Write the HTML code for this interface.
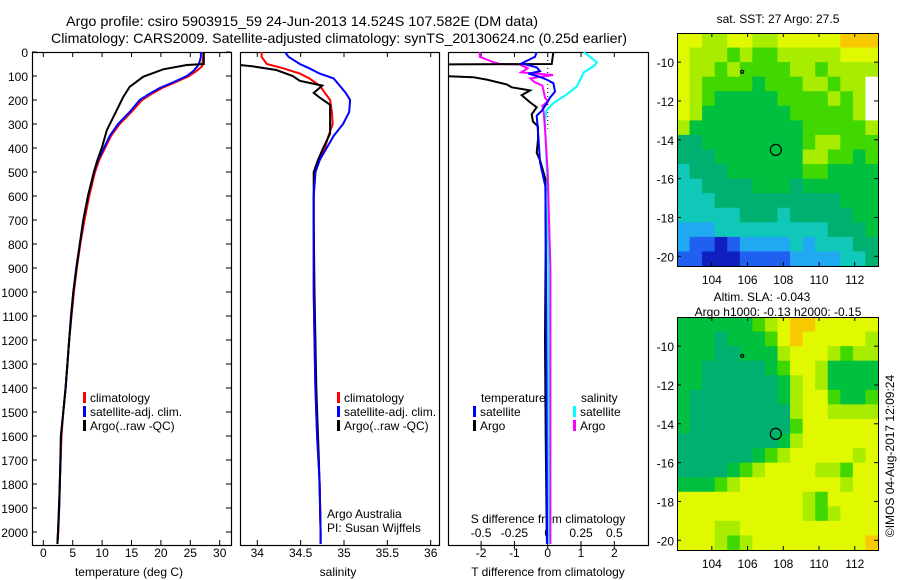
<!DOCTYPE html>
<html><head><meta charset="utf-8"><style>
html,body{margin:0;padding:0;background:#fff;}
svg{display:block;font-family:"Liberation Sans",sans-serif;}
</style></head><body>
<svg id="c" width="900" height="580" viewBox="0 0 900 580"></svg>
<script>
// ---------- data ----------
const depthT = [0,20,40,60,80,100,125,150,175,200,250,300,350,400,450,500,600,700,800,900,1000,1100,1200,1300,1400,1500,1600,1700,1800,1900,2000,2050];
const tempClim = [27.2,27.2,27.1,27.0,26.0,24.8,22.6,20.2,18.4,16.8,15.0,13.0,11.5,10.5,9.5,8.8,7.8,7.0,6.3,5.7,5.2,4.8,4.4,4.1,3.8,3.4,3.1,2.95,2.8,2.7,2.55,2.4];
const tempSat = [26.8,26.8,26.6,26.2,25.5,24.4,22.2,19.8,18.0,16.4,14.7,12.7,11.3,10.3,9.3,8.6,7.6,6.8,6.2,5.6,5.1,4.7,4.4,4.1,3.8,3.4,3.0,2.95,2.8,2.7,2.5,2.4];
const depthTA = [0,50,54,72,103,145,187,257,326,396,450,500,600,700,800,1000,1200,1400,1600,1800,2000,2050];
const tempArgo = [27.3,27.3,24.4,20.4,17.0,14.7,13.6,12.2,10.8,10.0,9.2,8.6,7.6,6.8,6.2,5.1,4.4,3.8,3.0,2.8,2.5,2.4];

const depthS = [0,20,50,68,90,110,140,170,200,250,300,350,400,450,500,600,800,1000,1200,1400,1600,1800,2000,2050];
const salClim = [34.05,34.05,34.11,34.30,34.49,34.60,34.72,34.78,34.84,34.86,34.87,34.82,34.78,34.72,34.67,34.65,34.65,34.65,34.66,34.67,34.69,34.72,34.73,34.73];
const salSat = [34.32,34.36,34.49,34.60,34.72,34.88,34.95,35.02,35.07,35.06,34.99,34.88,34.80,34.72,34.67,34.65,34.65,34.65,34.66,34.67,34.69,34.72,34.73,34.73];
const depthSA = [50,60,75,100,120,140,170,190,220,300,340,400,450,500,700,1000,1400,1700,2000,2050];
const salArgo = [33.7,33.95,34.22,34.41,34.49,34.75,34.65,34.72,34.84,34.84,34.84,34.76,34.70,34.65,34.65,34.66,34.68,34.71,34.73,34.73];

const depthDTA = [0,50,52,95,100,105,115,135,147,160,180,210,230,260,290,310,365,420,450,530,800,1200,1600,2000,2050];
const dTArgo = [0.17,0.12,-3.5,-3.5,-3.2,-2.24,-1.83,-1.23,-1.08,-0.53,-0.78,-0.53,-0.33,-0.48,-0.44,-0.29,-0.29,-0.33,-0.23,-0.07,-0.06,-0.08,-0.06,-0.03,-0.02];
const depthDTS = [0,20,47,64,80,90,104,115,130,165,190,215,245,265,355,460,560,900,1300,1700,2000,2050];
const dTSat = [-0.33,-0.38,-0.78,-0.33,-0.23,-0.58,-0.23,-0.03,0.17,0.22,0.07,-0.03,-0.18,-0.33,-0.28,-0.23,-0.07,-0.05,-0.04,-0.03,-0.02,-0.02];
const depthDSA = [0,20,42,50,52,68,85,96,110,125,140,190,205,225,250,320,500,900,1500,2050];
const dSArgo = [-0.51,-0.51,-0.41,-0.36,-0.21,-0.15,-0.2,0.04,-0.13,-0.1,-0.04,-0.02,0.0,-0.04,-0.03,-0.02,0.0,0.02,0.02,0.02];
const depthDSS = [0,43,57,85,143,178,214,243,290,600,1000,2050];
const dSSat = [0.27,0.37,0.35,0.27,0.22,0.14,0.04,-0.01,-0.02,0.0,0.005,0.005];

const tempTicks = [0,5,10,15,20,25,30];
const salTicks = [34,34.5,35,35.5,36];
const salTickLabels = ["34","34.5","35","35.5","36"];
const dTTicks = [-2,-1,0,1,2];
const dSTicks = [-0.5,-0.25,0,0.25,0.5];
const dSTickLabels = ["-0.5","-0.25","0","0.25","0.5"];
const depthTicks = [0,100,200,300,400,500,600,700,800,900,1000,1100,1200,1300,1400,1500,1600,1700,1800,1900,2000];
const lonTicks = [104,106,108,110,112];
const latTicks = [-10,-12,-14,-16,-18,-20];

// map grids (rows north->south, lat -8.5..-20.5); digit = colour class, w = no data
const sstGrid = [
"8877887788888999","8777676677777888","8776766667767777","876666566677677w",
"876555556666767w","875555555666667w","7555555555666667","4455555555677666",
"4445555555776656","3444555555665555","3344445554555555","3334444444444555",
"3333344434444455","2223333333334445","2110122223233344","1100011112222334"];
const slaGrid = [
"5555556789988888","5554555689888887","5554455578887677","5544444568875555",
"5544444457875555","5444444457886556","5444444447887777","5444444446888888",
"4444444457888888","4444445678888878","4444567888877688","5556788888888788",
"8888888888768888","8888888888767888","8887788888888888","8887678888888889"];
const palette = ["#1020c0","#2060f0","#20a8f0","#10c8b8","#00b070","#00c040","#40d800","#a8ec00","#e0f800","#f8c800"];
const mapLon = [102.05,113.3];
const mapLat = [-8.5,-20.5];
const argoPos = [107.58,-14.52];
const smallMarker = [105.7,-10.5];

// ---------- helpers ----------
const svg = document.getElementById('c');
const NS = 'http://www.w3.org/2000/svg';
function add(parent, tag, attrs, name){
  const el = document.createElementNS(NS, tag);
  for (const k in attrs) el.setAttribute(k, attrs[k]);
  
  
  parent.appendChild(el);
  return el;
}
function txt(parent, x, y, s, name, opts){
  opts = opts || {};
  const el = add(parent, 'text', Object.assign({x:x, y:y, 'font-size':opts.fs||12, 'text-anchor':opts.anchor||'start', fill:'#000'}, opts.extra||{}), name);
  el.textContent = s;
  return el;
}
const yD = d => 52 + d*0.24;
const BOT = 545, TOP = 52;
const xT = t => 43.3 + t*5.88;
const xS = s => 257.3 + (s-34)*86.7;
const xdT = v => 547.7 + v*33.3;
const xdS = v => 547.7 + v*133.2;

// clip paths
const defs = add(svg,'defs',{},'defs');
[[32,231,'clip1'],[240,439,'clip2'],[448,648,'clip3']].forEach(c=>{
  const cp = add(defs,'clipPath',{id:c[2]},'clip-'+c[2]);
  add(cp,'rect',{x:c[0],y:TOP,width:c[1]-c[0],height:BOT-TOP},'clip-rect');
});

function line(g, xs, ds, xf, color, clip, name, w){
  const pts = xs.map((v,i)=>xf(v).toFixed(1)+','+yD(ds[i]).toFixed(1)).join(' ');
  add(g,'polyline',{points:pts, fill:'none', stroke:color, 'stroke-width':w||2, 'clip-path':'url(#'+clip+')', 'stroke-linejoin':'miter'}, name);
}

// ---------- titles ----------
txt(svg,66,26,'Argo profile: csiro 5903915_59 24-Jun-2013 14.524S 107.582E (DM data)','title-line-1',{fs:14,extra:{textLength:472,lengthAdjust:'spacingAndGlyphs'}});
txt(svg,51,43,'Climatology: CARS2009. Satellite-adjusted climatology: synTS_20130624.nc (0.25d earlier)','title-line-2',{fs:14,extra:{textLength:576,lengthAdjust:'spacingAndGlyphs'}});

// ---------- panel frames ----------
function frame(x0,x1,name){
  add(svg,'rect',{x:x0+0.5,y:TOP+0.5,width:x1-x0,height:BOT-TOP,fill:'none',stroke:'#000','stroke-width':1.2},name);
}
frame(32,231,'temperature-panel-frame');
frame(240,439,'salinity-panel-frame');
frame(448,648,'difference-panel-frame');

// depth axis
depthTicks.forEach(d=>{
  txt(svg,28,yD(d)+5,String(d),'depth-tick-label',{fs:12,anchor:'end'});
  add(svg,'line',{x1:32,x2:37,y1:yD(d),y2:yD(d),stroke:'#000'},'depth-tick');
  add(svg,'line',{x1:226,x2:231,y1:yD(d),y2:yD(d),stroke:'#000'},'depth-tick');
});
tempTicks.forEach(t=>{
  txt(svg,xT(t),557,String(t),'temperature-tick-label',{anchor:'middle'});
  add(svg,'line',{x1:xT(t),x2:xT(t),y1:BOT,y2:BOT-5,stroke:'#000'},'temperature-tick');
  add(svg,'line',{x1:xT(t),x2:xT(t),y1:TOP,y2:TOP+5,stroke:'#000'},'temperature-tick');
});
txt(svg,129,576,'temperature (deg C)','temperature-axis-title',{anchor:'middle'});
salTicks.forEach((s,i)=>{
  txt(svg,xS(s),557,salTickLabels[i],'salinity-tick-label',{anchor:'middle'});
  add(svg,'line',{x1:xS(s),x2:xS(s),y1:BOT,y2:BOT-5,stroke:'#000'},'salinity-tick');
  add(svg,'line',{x1:xS(s),x2:xS(s),y1:TOP,y2:TOP+5,stroke:'#000'},'salinity-tick');
});
txt(svg,338,576,'salinity','salinity-axis-title',{anchor:'middle'});
dTTicks.forEach(v=>{
  txt(svg,xdT(v),557,String(v),'t-diff-tick-label',{anchor:'middle'});
  add(svg,'line',{x1:xdT(v),x2:xdT(v),y1:BOT,y2:BOT+4,stroke:'#000'},'t-diff-tick');
  add(svg,'line',{x1:xdT(v),x2:xdT(v),y1:TOP,y2:TOP+5,stroke:'#000'},'t-diff-tick');
});
dSTicks.forEach((v,i)=>{
  txt(svg,xdS(v),537,dSTickLabels[i],'s-diff-tick-label',{anchor:'middle'});
  add(svg,'line',{x1:xdS(v),x2:xdS(v),y1:BOT-4,y2:BOT,stroke:'#000'},'s-diff-tick');
});
txt(svg,548,523,'S difference from climatology','s-diff-axis-title',{anchor:'middle'});
txt(svg,548,576,'T difference from climatology','t-diff-axis-title',{anchor:'middle'});
add(svg,'line',{x1:547.7,x2:547.7,y1:TOP,y2:yD(320),stroke:'#000','stroke-dasharray':'1,3'},'zero-line');

// ---------- series ----------
const g1 = add(svg,'g',{},'temperature-series');
line(g1,tempClim,depthT,xT,'#ff0000','clip1','temp-climatology-line');
line(g1,tempSat,depthT,xT,'#0000ff','clip1','temp-satellite-line');
line(g1,tempArgo,depthTA,xT,'#000000','clip1','temp-argo-line');
const g2 = add(svg,'g',{},'salinity-series');
line(g2,salClim,depthS,xS,'#ff0000','clip2','sal-climatology-line');
line(g2,salArgo,depthSA,xS,'#000000','clip2','sal-argo-line');
line(g2,salSat,depthS,xS,'#0000ff','clip2','sal-satellite-line');
const g3 = add(svg,'g',{},'difference-series');
line(g3,dSSat,depthDSS,xdS,'#00ffff','clip3','s-diff-satellite-line');
line(g3,dSArgo,depthDSA,xdS,'#ff00ff','clip3','s-diff-argo-line');
line(g3,dTArgo,depthDTA,xdT,'#000000','clip3','t-diff-argo-line');
line(g3,dTSat,depthDTS,xdT,'#0000ff','clip3','t-diff-satellite-line');

// ---------- legends ----------
function legend(x,y,color,label,name){
  add(svg,'rect',{x:x,y:y-10,width:3,height:11,fill:color},name+'-swatch');
  if(label) txt(svg,x+7,y,label,name+'-label');
}
legend(83,402,'#ff0000','climatology','legend-climatology');
legend(83,416,'#0000ff','satellite-adj. clim.','legend-satellite');
legend(83,430,'#000000','Argo(..raw -QC)','legend-argo');
legend(337,402,'#ff0000','climatology','legend-sal-climatology');
legend(337,416,'#0000ff','satellite-adj. clim.','legend-sal-satellite');
legend(337,430,'#000000','Argo(..raw -QC)','legend-sal-argo');
txt(svg,481,402,'temperature','legend-temperature-heading');
legend(473,416,'#0000ff','satellite','legend-t-satellite');
legend(473,430,'#000000','Argo','legend-t-argo');
txt(svg,581,402,'salinity','legend-salinity-heading');
legend(573,416,'#00ffff','satellite','legend-s-satellite');
legend(573,430,'#ff00ff','Argo','legend-s-argo');
txt(svg,327,518,'Argo Australia','credit-argo-australia');
txt(svg,327,532,'PI: Susan Wijffels','credit-pi');

// ---------- maps ----------
function drawMap(grid, y0, y1, name){
  const x0 = 677, x1 = 878;
  const g = add(svg,'g',{},name);
  const rows = grid.length, cols = grid[0].length;
  const cw = (x1-x0)/cols, ch = (y1-y0)/rows;
  grid.forEach((row,r)=>{
    for(let c=0;c<cols;c++){
      const ch_ = row[c];
      const fill = ch_==='w' ? '#ffffff' : palette[+ch_];
      add(g,'rect',{x:(x0+c*cw).toFixed(2),y:(y0+r*ch).toFixed(2),width:(cw+0.6).toFixed(2),height:(ch+0.6).toFixed(2),fill:fill},name+'-cell');
    }
  });
  add(svg,'rect',{x:x0+0.5,y:y0+0.5,width:x1-x0,height:y1-y0,fill:'none',stroke:'#000'},name+'-frame');
  const mx = lon => x0 + (lon-mapLon[0])/(mapLon[1]-mapLon[0])*(x1-x0);
  const my = lat => y0 + (lat-mapLat[0])/(mapLat[1]-mapLat[0])*(y1-y0);
  lonTicks.forEach(l=>{
    add(svg,'line',{x1:mx(l),x2:mx(l),y1:y1,y2:y1-4,stroke:'#000'},name+'-lon-tick');
    add(svg,'line',{x1:mx(l),x2:mx(l),y1:y0,y2:y0+4,stroke:'#000'},name+'-lon-tick');
    txt(svg,mx(l),y1+18,String(l),name+'-lon-label',{anchor:'middle'});
  });
  latTicks.forEach(l=>{
    add(svg,'line',{x1:x0,x2:x0+4,y1:my(l),y2:my(l),stroke:'#000'},name+'-lat-tick');
    add(svg,'line',{x1:x1,x2:x1-4,y1:my(l),y2:my(l),stroke:'#000'},name+'-lat-tick');
    txt(svg,674,my(l)+5,String(l),name+'-lat-label',{anchor:'end'});
  });
  add(svg,'circle',{cx:mx(argoPos[0]),cy:my(argoPos[1]),r:5.5,fill:'none',stroke:'#000','stroke-width':1.2},name+'-argo-marker');
  add(svg,'circle',{cx:mx(smallMarker[0]),cy:my(smallMarker[1]),r:1.5,fill:'none',stroke:'#000','stroke-width':1.2},name+'-small-marker');
}
drawMap(sstGrid,33,266,'sst-map');
drawMap(slaGrid,317,550,'sla-map');
txt(svg,778,23,'sat. SST: 27 Argo: 27.5','sst-map-title',{anchor:'middle'});
txt(svg,762,301,'Altim. SLA: -0.043','sla-map-title',{anchor:'middle'});
txt(svg,778,316,'Argo h1000: -0.13 h2000: -0.15','sla-map-subtitle',{anchor:'middle'});
txt(svg,0,0,'©IMOS 04-Aug-2017 12:09:24','timestamp',{anchor:'middle',extra:{transform:'translate(894,456) rotate(-90)'}});
</script>
</body></html>
